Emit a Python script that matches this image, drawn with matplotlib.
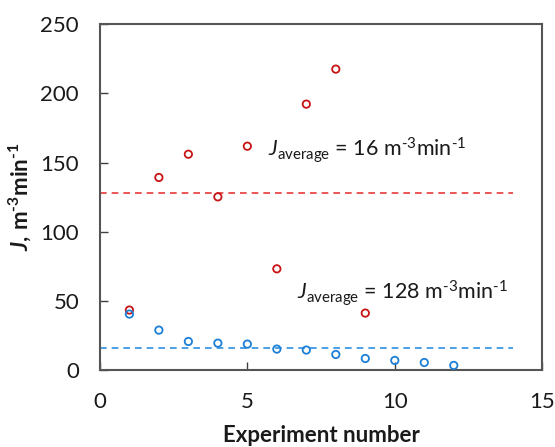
import matplotlib
matplotlib.use("Agg")
import matplotlib.pyplot as plt

experiment_red = [1, 2, 3, 4, 5, 6, 7, 8, 9]
J_red = [43.4, 139.2, 156.0, 125.2, 161.8, 73.2, 192.2, 217.5, 41.2]
experiment_blue = [1, 2, 3, 4, 5, 6, 7, 8, 9, 10, 11, 12]
J_blue = [40.5, 28.9, 20.7, 19.5, 18.8, 15.2, 14.5, 11.3, 8.4, 7.0, 5.5, 3.4]
avg_red = 128
avg_blue = 16
avg_span = [0, 14]
x_ticks = [0, 5, 10, 15]
y_ticks = [0, 50, 100, 150, 200, 250]

FONT = 'Lato'
plt.rcParams['font.family'] = [FONT, 'DejaVu Sans']
plt.rcParams['mathtext.fontset'] = 'custom'
plt.rcParams['mathtext.rm'] = FONT
plt.rcParams['mathtext.it'] = FONT + ':italic'
plt.rcParams['mathtext.bf'] = FONT + ':bold'
plt.rcParams['mathtext.bfit'] = FONT + ':bold:italic'

fig = plt.figure(figsize=(5.55, 4.47), dpi=100)
ax = fig.add_axes([0.18, 0.172, 0.797, 0.774])

red_mk = '#C81414'
blue_mk = '#1C7FD6'
ax.plot(avg_span, [avg_red, avg_red], ls=(0, (4, 3)), color='#E83A3A', lw=1.2)
ax.plot(avg_span, [avg_blue, avg_blue], ls=(0, (4, 3)), color='#2C90E0', lw=1.2)
ax.scatter(experiment_red, J_red, s=28, facecolors='none', edgecolors=red_mk, linewidths=1.3, zorder=3)
ax.scatter(experiment_blue, J_blue, s=28, facecolors='none', edgecolors=blue_mk, linewidths=1.3, zorder=3)

ax.set_xlim(0, 15)
ax.set_ylim(0, 250)
ax.set_xticks(x_ticks)
ax.set_yticks(y_ticks)
ax.tick_params(direction='in', length=6, width=1, color='#404040', labelsize=16, labelcolor='#1a1a1a')
ax.tick_params(axis='x', pad=16)
ax.tick_params(axis='y', pad=15)
for s in ax.spines.values():
    s.set_color('#555555')
    s.set_linewidth(1.5)

hy = '\u2010'
ax.text(5.7, 159, r'$\mathit{J}_{\mathrm{average}}$ = 16 m$^{' + hy + '3}$min$^{' + hy + '1}$',
        fontsize=15.5, va='center', ha='left', color='#1a1a1a')
ax.text(6.7, 55.5, r'$\mathit{J}_{\mathrm{average}}$ = 128 m$^{' + hy + '3}$min$^{' + hy + '1}$',
        fontsize=15.5, va='center', ha='left', color='#1a1a1a')

ax.set_xlabel('Experiment number', fontsize=16, fontweight='bold', labelpad=9, color='#1a1a1a')
ax.set_ylabel(r'$\mathbfit{J}\mathbf{,\,m^{' + hy + '3}min^{' + hy + '1}}$', fontsize=16, labelpad=5, color='#1a1a1a')

fig.savefig('out.png', dpi=100)
